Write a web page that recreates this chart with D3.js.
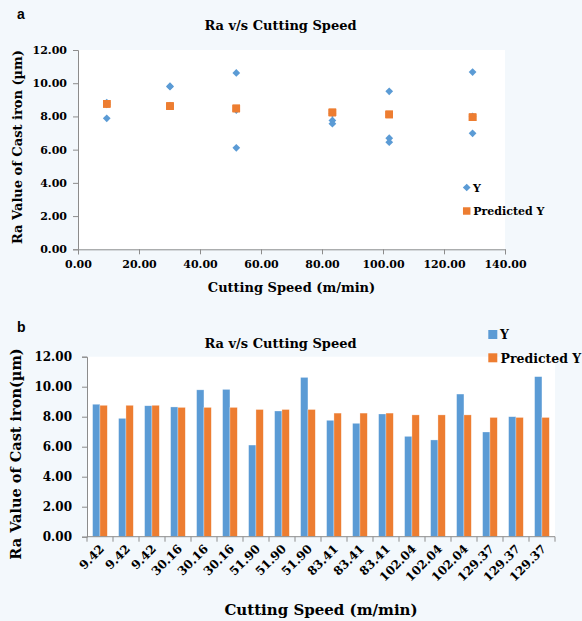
<!DOCTYPE html>
<html><head><meta charset="utf-8">
<script src="https://cdn.jsdelivr.net/npm/d3@7"></script>
<style>
html,body{margin:0;padding:0;background:#f3f8fc;}
text{font-family:"DejaVu Serif",serif;font-weight:bold;fill:#000;}
</style></head>
<body>
<svg id="c" width="582" height="621"></svg>
<script>
// ---- data ----
const speeds = [9.42, 9.42, 9.42, 30.16, 30.16, 30.16, 51.90, 51.90, 51.90,
                83.41, 83.41, 83.41, 102.04, 102.04, 102.04, 129.37, 129.37, 129.37];
const speedLabels = ["9.42","9.42","9.42","30.16","30.16","30.16","51.90","51.90","51.90",
                     "83.41","83.41","83.41","102.04","102.04","102.04","129.37","129.37","129.37"];
const yValues = [8.83, 7.89, 8.73, 8.65, 9.79, 9.82, 6.11, 8.38, 10.62,
                 7.76, 7.56, 8.18, 6.69, 6.45, 9.51, 6.98, 8.00, 10.67];
const predicted = [8.76, 8.76, 8.76, 8.62, 8.62, 8.62, 8.48, 8.48, 8.48,
                   8.24, 8.24, 8.24, 8.12, 8.12, 8.12, 7.95, 7.95, 7.95];
const seriesNames = ["Y", "Predicted Y"];
const yTicks = [0, 2, 4, 6, 8, 10, 12];
const xTicksScatter = [0, 20, 40, 60, 80, 100, 120, 140];

const BLUE = "#5b9bd5", ORANGE = "#ed7d31", AXIS = "#8c8c8c";
const svg = d3.select("#c");

function styleAxis(g){
  g.select(".domain").attr("stroke", AXIS);
  g.selectAll(".tick line").attr("stroke", AXIS);
  g.selectAll("text").attr("fill","#000").style("font-family","'DejaVu Serif',serif").style("font-weight","bold");
}

// ================= Chart a (scatter) =================
const A = {l:78, r:505, t:50, b:249.3};
const xa = d3.scaleLinear().domain([0,140]).range([A.l, A.r]);
const ya = d3.scaleLinear().domain([0,12]).range([A.b, A.t]);

svg.append("rect").attr("x",A.l).attr("y",A.t).attr("width",A.r-A.l).attr("height",A.b-A.t).attr("fill","#fff");

svg.append("text").attr("x",17).attr("y",18.5).text("a")
  .style("font-family","'Liberation Sans',Arial,sans-serif").style("font-size","14px");
svg.append("text").attr("x",280.5).attr("y",30).attr("text-anchor","middle").style("font-size","13px").text("Ra v/s Cutting Speed");

const gxa = svg.append("g").attr("transform",`translate(0,${A.b})`)
  .call(d3.axisBottom(xa).tickValues(xTicksScatter).tickFormat(d3.format(".2f")).tickSize(5).tickPadding(6));
gxa.selectAll("text").style("font-size","11px");
styleAxis(gxa);
const gya = svg.append("g").attr("transform",`translate(${A.l},0)`)
  .call(d3.axisLeft(ya).tickValues(yTicks).tickFormat(d3.format(".2f")).tickSize(5).tickPadding(6));
gya.selectAll("text").style("font-size","11px");
styleAxis(gya);

svg.append("text").attr("x",291.5).attr("y",292).attr("text-anchor","middle").style("font-size","13px").text("Cutting Speed (m/min)");
svg.append("text").attr("transform","translate(21.5,147) rotate(-90)").attr("text-anchor","middle").style("font-size","13px").text("Ra Value of Cast iron (µm)");

const diamond = d3.symbol().type(d3.symbolSquare).size(30);
const square = d3.symbol().type(d3.symbolSquare).size(56);

svg.append("g").selectAll("path").data(speeds.map((s,i)=>({x:s,y:yValues[i]}))).join("path")
  .attr("d", diamond).attr("fill", BLUE)
  .attr("transform", d=>`translate(${xa(d.x)},${ya(d.y)}) rotate(45)`);
svg.append("g").selectAll("path").data(speeds.map((s,i)=>({x:s,y:predicted[i]}))).join("path")
  .attr("d", square).attr("fill", ORANGE)
  .attr("transform", d=>`translate(${xa(d.x)},${ya(d.y)})`);

// legend a
svg.append("path").attr("d",diamond).attr("fill",BLUE).attr("transform","translate(466.7,187.5) rotate(45)");
svg.append("text").attr("x",473).attr("y",191.7).style("font-size","11px").text(seriesNames[0]);
svg.append("path").attr("d",square).attr("fill",ORANGE).attr("transform","translate(466.7,211)");
svg.append("text").attr("x",473.3).attr("y",215).style("font-size","11px").text(seriesNames[1]);

// ================= Chart b (bars) =================
const B = {l:87, r:555, t:356.7, b:536.7};
const idx = d3.range(speeds.length);
const x0 = d3.scaleBand().domain(idx).range([B.l, B.r]).paddingInner(0).paddingOuter(0);
const x1 = d3.scaleBand().domain(seriesNames).range([5.6, 20.3]);
const yb = d3.scaleLinear().domain([0,12]).range([B.b, B.t]);

svg.append("rect").attr("x",B.l).attr("y",B.t).attr("width",B.r-B.l).attr("height",B.b-B.t).attr("fill","#fff");

svg.append("text").attr("x",17).attr("y",332).text("b")
  .style("font-family","'Liberation Sans',Arial,sans-serif").style("font-size","14px");
svg.append("text").attr("x",280.5).attr("y",348).attr("text-anchor","middle").style("font-size","13px").text("Ra v/s Cutting Speed");

const groups = svg.append("g").selectAll("g").data(idx).join("g")
  .attr("transform", i=>`translate(${x0(i)},0)`);
groups.selectAll("rect").data(i=>[{k:seriesNames[0],v:yValues[i]},{k:seriesNames[1],v:predicted[i]}]).join("rect")
  .attr("x", d=>x1(d.k)).attr("width", x1.bandwidth())
  .attr("y", d=>yb(d.v)).attr("height", d=>B.b-yb(d.v))
  .attr("fill", d=>d.k===seriesNames[0]?BLUE:ORANGE)
  .attr("stroke","#ffffff").attr("stroke-opacity",0.5).attr("stroke-width",0.6);

const gyb = svg.append("g").attr("transform",`translate(${B.l},0)`)
  .call(d3.axisLeft(yb).tickValues(yTicks).tickFormat(d3.format(".2f")).tickSize(5).tickPadding(10));
gyb.selectAll("text").style("font-size","12px");
styleAxis(gyb);

// x axis b: line, ticks at band boundaries, rotated labels at centers
const gxb = svg.append("g");
gxb.append("line").attr("x1",B.l).attr("x2",B.r).attr("y1",B.b).attr("y2",B.b).attr("stroke",AXIS);
gxb.selectAll("line.t").data(idx.map(i=>x0(i)).concat([B.r])).join("line").attr("class","t")
  .attr("x1",d=>d).attr("x2",d=>d).attr("y1",B.b).attr("y2",B.b+5).attr("stroke",AXIS);
gxb.selectAll("text").data(idx).join("text")
  .attr("transform", i=>`translate(${x0(i)+x0.bandwidth()/2+5},${B.b+13}) rotate(-45)`)
  .attr("text-anchor","end").style("font-size","12px").text(i=>speedLabels[i]);

svg.append("text").attr("x",321).attr("y",615).attr("text-anchor","middle").style("font-size","15px").text("Cutting Speed (m/min)");
svg.append("text").attr("transform","translate(20.5,454) rotate(-90)").attr("text-anchor","middle").style("font-size","14.5px").text("Ra Value of Cast iron(µm)");

// legend b
svg.append("rect").attr("x",488.3).attr("y",330).attr("width",9).attr("height",9).attr("fill",BLUE);
svg.append("text").attr("x",500).attr("y",339).style("font-size","12.5px").text(seriesNames[0]);
svg.append("rect").attr("x",488.3).attr("y",353.3).attr("width",9).attr("height",9).attr("fill",ORANGE);
svg.append("text").attr("x",500.5).attr("y",362.5).style("font-size","12.5px").text(seriesNames[1]);
</script>
</body></html>
